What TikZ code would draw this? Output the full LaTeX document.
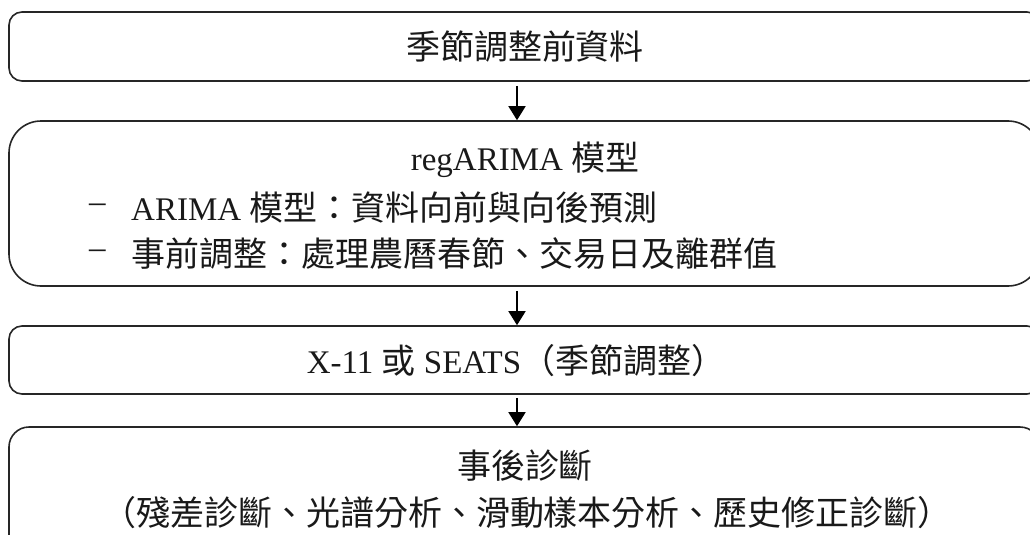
\documentclass[tikz,border=0pt]{standalone}
\usepackage{fontspec}
\setmainfont{Liberation Serif}
\newfontfamily\cjk[Scale=1.03]{Noto Sans CJK TC}
\usetikzlibrary{arrows.meta}
\begin{document}
\begin{tikzpicture}[x=1pt,y=-1pt,
  box/.style={draw=black!85, line width=1.6pt, rectangle, minimum width=1031pt, inner sep=0pt},
  arr/.style={draw=black, line width=1.6pt, -{Triangle[length=14pt,width=17pt]}},
  txt/.style={font=\fontsize{33}{40}\selectfont, inner sep=0pt, text=black!90}]
\useasboundingbox (0,0) rectangle (1030,535);
% boxes
\node[box, rounded corners=13pt, minimum height=69pt] (b1) at (524.5,46.5) {};
\node[box, rounded corners=32pt, minimum height=165pt] (b2) at (524.5,203.5) {};
\node[box, rounded corners=13pt, minimum height=68pt] (b3) at (524.5,360) {};
\node[box, rounded corners=20pt, minimum height=148pt] (b4) at (524.5,501) {};
% texts
\node[txt] (t1) at (525,47) {\cjk 季節調整前資料};
\node[txt] (t2) at (525,160) {regARIMA {\cjk 模型}};
\node[txt, anchor=west] (d1) at (89,208) {–};
\node[txt, anchor=west] (l1) at (131,208) {ARIMA {\cjk 模型：資料向前與向後預測}};
\node[txt, anchor=west] (d2) at (89,254) {–};
\node[txt, anchor=west] (l2) at (131,254) {\cjk 事前調整：處理農曆春節、交易日及離群值};
\node[txt] (t3) at (516,361) {X-11 {\cjk 或} SEATS{\cjk （季節調整）}};
\node[txt] (t4) at (525,466) {\cjk 事後診斷};
\node[txt] (t5) at (527,513) {\cjk （殘差診斷、光譜分析、滑動樣本分析、歷史修正診斷）};
% arrows
\draw[arr] ([xshift=-7.5pt]b1.south) ++(0,4) -- ([xshift=-7.5pt]b2.north);
\draw[arr] ([xshift=-7.5pt]b2.south) ++(0,4) -- ([xshift=-7.5pt]b3.north);
\draw[arr] ([xshift=-7.5pt]b3.south) ++(0,3) -- ([xshift=-7.5pt]b4.north);
\end{tikzpicture}
\end{document}
